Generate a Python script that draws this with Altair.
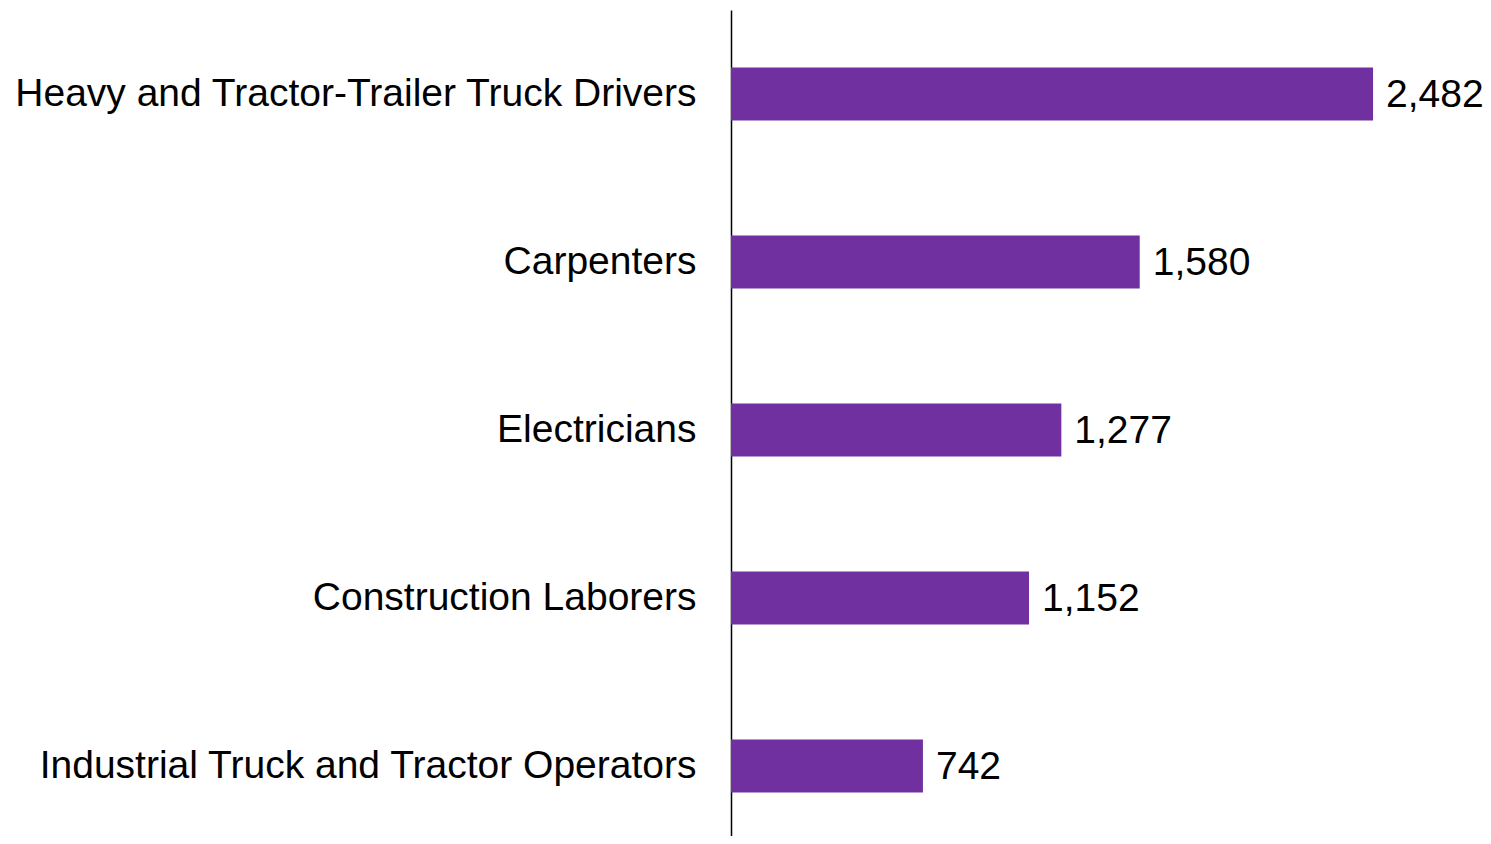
import altair as alt
import pandas as pd

occupations = [
    "Heavy and Tractor-Trailer Truck Drivers",
    "Carpenters",
    "Electricians",
    "Construction Laborers",
    "Industrial Truck and Tractor Operators",
]
values = [2482, 1580, 1277, 1152, 742]

df = pd.DataFrame({"occupation": occupations, "value": values})

y_enc = alt.Y(
    "occupation:N",
    sort=occupations,
    title=None,
    scale=alt.Scale(paddingInner=0.685, paddingOuter=0.3425, range=[0, 840]),
    axis=alt.Axis(
        labelFontSize=39,
        labelFont="Liberation Sans",
        labelColor="black",
        labelPadding=35,
        ticks=False,
        domainColor="black",
        domainWidth=1.5,
        labelLimit=0,
        grid=False,
    ),
)
x_enc = alt.X("value:Q", scale=alt.Scale(domain=[0, 2907], nice=False), axis=None)

bars = alt.Chart(df).mark_bar(color="#7030A0").encode(x=x_enc, y=y_enc)
text = alt.Chart(df).mark_text(
    align="left", baseline="middle", dx=13, dy=1, fontSize=39,
    font="Liberation Sans", color="black"
).encode(x=x_enc, y=y_enc, text=alt.Text("value:Q", format=","))

chart = (bars + text).properties(
    width=752,
    height=826,
    autosize=alt.AutoSizeParams(type="none"),
    padding={"left": 723, "top": 2, "right": 0, "bottom": 0},
).configure_view(stroke=None)

chart.save("out.html", embed_options={"renderer": "svg", "actions": False})
